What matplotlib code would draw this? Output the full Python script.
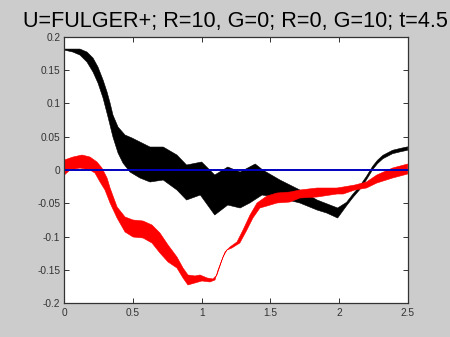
import numpy as np
import matplotlib
matplotlib.use("Agg")
import matplotlib.pyplot as plt

plt.rcParams['font.family'] = ['Liberation Sans', 'DejaVu Sans']

title = "U=FULGER+; R=10, G=0; R=0, G=10; t=4.5"

# Black response envelope (upper / lower edges)
black_upper_x = [0.0, 0.114, 0.165, 0.209, 0.245, 0.282, 0.311, 0.333, 0.354, 0.391, 0.442,
                 0.493, 0.551, 0.624, 0.72, 0.82, 0.89, 1.0, 1.095, 1.19, 1.28, 1.39, 1.445,
                 1.57, 1.715, 1.84, 1.99, 2.055, 2.1, 2.15, 2.2, 2.245, 2.28, 2.32, 2.39,
                 2.45, 2.5]
black_upper_y = [0.1815, 0.1815, 0.177, 0.168, 0.1545, 0.135, 0.117, 0.1005, 0.0825, 0.0645,
                 0.0525, 0.048, 0.042, 0.0345, 0.0345, 0.0225, 0.0075, 0.012, -0.0075, 0.0045,
                 -0.003, 0.009, 0.0, -0.015, -0.030, -0.045, -0.057, -0.0485, -0.0365,
                 -0.0245, -0.0095, 0.0056, 0.0146, 0.0221, 0.0296, 0.0326, 0.0348]
black_lower_x = [0.0, 0.063, 0.114, 0.165, 0.209, 0.245, 0.282, 0.318, 0.354, 0.391, 0.427,
                 0.478, 0.551, 0.624, 0.72, 0.82, 0.89, 0.99, 1.095, 1.19, 1.28, 1.35, 1.44,
                 1.57, 1.715, 1.84, 1.91, 1.99, 2.055, 2.1, 2.15, 2.2, 2.245, 2.28, 2.32,
                 2.39, 2.45, 2.5]
black_lower_y = [0.180, 0.177, 0.1725, 0.162, 0.147, 0.1305, 0.108, 0.0795, 0.0495, 0.0255,
                 0.0105, -0.003, -0.012, -0.018, -0.015, -0.030, -0.045, -0.0375, -0.0675,
                 -0.0525, -0.057, -0.0495, -0.0375, -0.042, -0.0495, -0.060, -0.0645, -0.072,
                 -0.0536, -0.0416, -0.0296, -0.0146, 0.0005, 0.0095, 0.017, 0.0245, 0.0275,
                 0.0297]

# Red response envelope (upper / lower edges)
red_upper_x = [0.0, 0.063, 0.129, 0.187, 0.238, 0.274, 0.311, 0.333, 0.384, 0.442, 0.5,
               0.573, 0.638, 0.696, 0.755, 0.82, 0.864, 0.9, 0.951, 0.988, 1.039, 1.082,
               1.111, 1.148, 1.17, 1.206, 1.257, 1.301, 1.352, 1.403, 1.475, 1.548, 1.643,
               1.715, 1.84, 1.985, 2.03, 2.115, 2.2, 2.275, 2.39, 2.5]
red_upper_y = [0.015, 0.0195, 0.0225, 0.0195, 0.012, 0.003, -0.012, -0.027, -0.0555, -0.0705,
               -0.075, -0.0765, -0.0825, -0.0945, -0.1125, -0.1305, -0.147, -0.1575, -0.159,
               -0.1575, -0.162, -0.1635, -0.1575, -0.135, -0.123, -0.1155, -0.108, -0.090,
               -0.0675, -0.0495, -0.039, -0.0345, -0.033, -0.030, -0.027, -0.027, -0.0255,
               -0.0225, -0.018, -0.0075, 0.003, 0.009]
red_lower_x = [0.0, 0.041, 0.114, 0.187, 0.223, 0.26, 0.296, 0.333, 0.384, 0.442, 0.5,
               0.573, 0.638, 0.696, 0.755, 0.82, 0.864, 0.9, 0.951, 1.002, 1.06, 1.097,
               1.119, 1.155, 1.184, 1.22, 1.278, 1.329, 1.373, 1.424, 1.475, 1.548, 1.643,
               1.715, 1.84, 1.985, 2.03, 2.115, 2.2, 2.275, 2.39, 2.5]
red_lower_y = [-0.0075, 0.0, 0.003, 0.0, -0.0045, -0.018, -0.030, -0.0495, -0.072, -0.093,
               -0.1005, -0.102, -0.1095, -0.1245, -0.138, -0.147, -0.162, -0.1725, -0.1695,
               -0.1665, -0.168, -0.165, -0.150, -0.1305, -0.120, -0.117, -0.1095, -0.090,
               -0.072, -0.057, -0.054, -0.0495, -0.048, -0.042, -0.0405, -0.036, -0.036,
               -0.030, -0.027, -0.0195, -0.012, -0.006]

# Reference level
ref_x = [0.0, 2.5]
ref_y = [0.0, 0.0]

xticks = [0, 0.5, 1, 1.5, 2, 2.5]
xticklabels = ["0", "0.5", "1", "1.5", "2", "2.5"]
yticks = [-0.2, -0.15, -0.1, -0.05, 0, 0.05, 0.1, 0.15, 0.2]
yticklabels = ["-0.2", "-0.15", "-0.1", "-0.05", "0", "0.05", "0.1", "0.15", "0.2"]


def envelope(ux, uy, lx, ly):
    """Closed polygon: upper edge left-to-right, lower edge back."""
    return (np.concatenate([ux, lx[::-1]]), np.concatenate([uy, ly[::-1]]))


fig = plt.figure(figsize=(4.5, 3.37), dpi=100, facecolor='#cccccc')
ax = fig.add_axes([0.143, 0.100, 0.763, 0.791])
ax.set_facecolor('white')

bx, by = envelope(black_upper_x, black_upper_y, black_lower_x, black_lower_y)
ax.fill(bx, by, color='black', lw=0.4, ec='black', joinstyle='round')

rx, ry = envelope(red_upper_x, red_upper_y, red_lower_x, red_lower_y)
ax.fill(rx, ry, color='#ff0000', lw=0.4, ec='#ff0000', joinstyle='round')

ax.plot(ref_x, ref_y, color='#0000c0', lw=1.4)

ax.set_xlim(0, 2.5)
ax.set_ylim(-0.2, 0.2)
ax.set_xticks(xticks)
ax.set_xticklabels(xticklabels)
ax.set_yticks(yticks)
ax.set_yticklabels(yticklabels)
ax.tick_params(direction='in', length=3.5, width=0.7, colors='#333333',
               labelsize=7.3, top=True, right=True, pad=3)
ax.tick_params(axis='x', pad=3.5)
for s in ax.spines.values():
    s.set_color('#333333')
    s.set_linewidth(0.9)

fig.text(0.524, 1 - 27 / 337, title, ha='center', va='baseline', fontsize=15.6, color='black')

fig.savefig('out.png', dpi=100, facecolor=fig.get_facecolor())
